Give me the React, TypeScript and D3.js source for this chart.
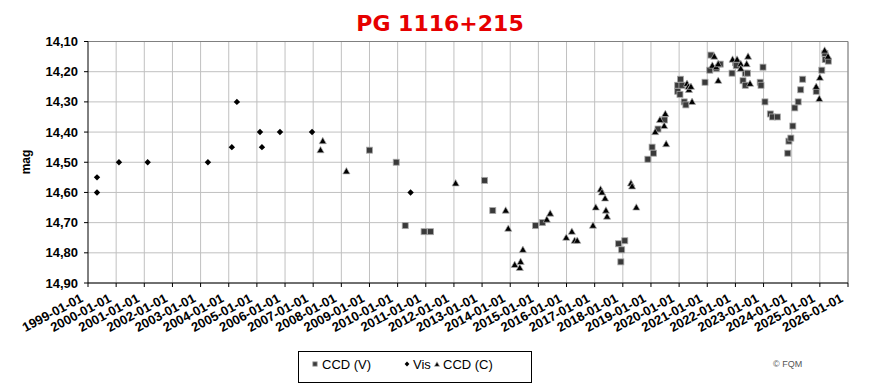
import * as d3 from "d3";

// decimal year, magnitude
const ccdV: [number, number][] = [
  [2009.0, 14.46], [2009.95, 14.5], [2010.27, 14.71], [2010.94, 14.73], [2011.17, 14.73],
  [2013.09, 14.56], [2013.38, 14.66], [2014.9, 14.71], [2015.14, 14.7],
  [2017.85, 14.77], [2017.93, 14.83], [2017.96, 14.79], [2018.07, 14.76],
  [2018.89, 14.49], [2019.04, 14.45], [2019.09, 14.47], [2019.25, 14.39], [2019.48, 14.36],
  [2019.95, 14.245], [2019.95, 14.265], [2020.03, 14.275], [2020.05, 14.225], [2020.1, 14.245],
  [2020.18, 14.3], [2020.24, 14.31], [2020.92, 14.235], [2021.09, 14.195], [2021.13, 14.145],
  [2021.32, 14.19], [2021.46, 14.175], [2021.88, 14.205], [2022.0, 14.17], [2022.03, 14.18],
  [2022.27, 14.23], [2022.35, 14.205], [2022.35, 14.245], [2022.43, 14.205],
  [2022.88, 14.235], [2022.91, 14.245], [2022.98, 14.185], [2023.05, 14.3],
  [2023.24, 14.34], [2023.32, 14.35], [2023.49, 14.35],
  [2023.86, 14.47], [2023.9, 14.43], [2023.97, 14.42], [2024.04, 14.38], [2024.11, 14.32],
  [2024.23, 14.3], [2024.32, 14.26], [2024.39, 14.225], [2024.87, 14.265],
  [2025.07, 14.195], [2025.18, 14.14], [2025.19, 14.16], [2025.3, 14.165],
];

const vis: [number, number][] = [
  [1999.32, 14.55], [1999.32, 14.6], [2000.1, 14.5], [2001.12, 14.5], [2003.26, 14.5],
  [2004.11, 14.45], [2004.29, 14.3], [2005.11, 14.4], [2005.18, 14.45], [2005.82, 14.4],
  [2006.96, 14.4], [2010.46, 14.6],
];

const ccdC: [number, number][] = [
  [2007.26, 14.46], [2007.34, 14.43], [2008.18, 14.53], [2012.06, 14.57],
  [2013.84, 14.66], [2013.93, 14.72], [2014.16, 14.84], [2014.34, 14.85], [2014.37, 14.83],
  [2014.45, 14.79], [2015.3, 14.69], [2015.42, 14.67], [2015.99, 14.75], [2016.19, 14.73],
  [2016.29, 14.76], [2016.38, 14.76], [2016.94, 14.71], [2017.04, 14.65], [2017.21, 14.59],
  [2017.26, 14.6], [2017.37, 14.62], [2017.4, 14.66], [2017.44, 14.68],
  [2018.29, 14.57], [2018.33, 14.58], [2018.48, 14.65],
  [2019.15, 14.4], [2019.32, 14.36], [2019.47, 14.38], [2019.51, 14.34], [2019.54, 14.44],
  [2020.28, 14.24], [2020.33, 14.25], [2020.35, 14.26], [2020.42, 14.25], [2020.46, 14.3],
  [2021.18, 14.18], [2021.25, 14.15], [2021.32, 14.185], [2021.39, 14.175], [2021.39, 14.23],
  [2021.9, 14.16], [2022.06, 14.16], [2022.19, 14.175], [2022.19, 14.19], [2022.4, 14.175],
  [2022.45, 14.15], [2022.52, 14.24],
  [2024.87, 14.25], [2024.98, 14.29], [2025.0, 14.22], [2025.17, 14.13], [2025.29, 14.15],
];

const years = d3.range(1999, 2027);
const magTicks = [14.1, 14.2, 14.3, 14.4, 14.5, 14.6, 14.7, 14.8, 14.9];
const legendItems = ["CCD (V)", "Vis", "CCD (C)"];

const W = 874;
const H = 388;
const left = 88;
const right = 848;
const top = 41.5;
const bottom = 283;

const font = "'Liberation Sans', Arial, sans-serif";

const Square = ({ x, y, s = 3 }: { x: number; y: number; s?: number }) => (
  <rect x={x - s} y={y - s} width={2 * s} height={2 * s} fill="#3a3a3a" stroke="#a8a8a8" strokeWidth={0.8} />
);
const Diamond = ({ x, y, s = 3.2 }: { x: number; y: number; s?: number }) => (
  <path d={`M${x},${y - s}L${x + s},${y}L${x},${y + s}L${x - s},${y}Z`} fill="#000" />
);
const Triangle = ({ x, y, s = 3.6 }: { x: number; y: number; s?: number }) => (
  <path d={`M${x},${y - s * 1.05}L${x + s},${y + s * 0.72}L${x - s},${y + s * 0.72}Z`} fill="#000" stroke="#b0b0b0" strokeWidth={0.7} />
);

export default function App() {
  const x = d3.scaleLinear().domain([1999, 2026]).range([left, right]);
  const y = d3.scaleLinear().domain([14.1, 14.9]).range([top, bottom]);
  const fmt = (v: number) => v.toFixed(2).replace(".", ",");

  return (
    <svg width={W} height={H} style={{ position: "absolute", left: 0, top: 0, background: "#fff" }}>
      <rect width={W} height={H} fill="#fff" />
      <text x={440} y={30.5} textAnchor="middle" fill="#e60000" fontFamily="'DejaVu Sans', Verdana, sans-serif" fontWeight="bold" fontSize={22}>
        PG 1116+215
      </text>

      {/* grid */}
      {years.slice(1).map((yr) => (
        <line key={"gx" + yr} x1={x(yr)} x2={x(yr)} y1={top} y2={bottom} stroke="#c0c0c0" />
      ))}
      {magTicks.map((m) => (
        <line key={"gy" + m} x1={left} x2={right} y1={y(m)} y2={y(m)} stroke="#c0c0c0" />
      ))}
      <line x1={left} x2={right} y1={top} y2={top} stroke="#808080" />
      <line x1={right} x2={right} y1={top} y2={bottom} stroke="#808080" />

      {/* axes */}
      <line x1={left} x2={left} y1={top} y2={bottom} stroke="#000" />
      <line x1={left} x2={right} y1={bottom} y2={bottom} stroke="#000" />
      {magTicks.map((m) => (
        <g key={"ty" + m}>
          <line x1={left - 4} x2={left} y1={y(m)} y2={y(m)} stroke="#000" />
          <text x={78} y={y(m) + 4.5} textAnchor="end" fontFamily={font} fontWeight="bold" fontSize={13} fill="#000">
            {fmt(m)}
          </text>
        </g>
      ))}
      {years.map((yr) => (
        <g key={"tx" + yr}>
          <line x1={x(yr)} x2={x(yr)} y1={bottom} y2={bottom + 4} stroke="#000" />
          <text
            transform={`translate(${x(yr) - 4},${bottom + 18}) rotate(-28)`}
            textAnchor="end"
            fontFamily={font}
            fontWeight="bold"
            fontSize={13}
            fill="#000"
          >
            {`${yr}-01-01`}
          </text>
        </g>
      ))}
      <text transform={`translate(30,162) rotate(-90)`} textAnchor="middle" fontFamily={font} fontWeight="bold" fontSize={12}>
        mag
      </text>

      {/* data */}
      {ccdV.map(([t, m], i) => (
        <Square key={"v" + i} x={x(t)} y={y(m)} />
      ))}
      {vis.map(([t, m], i) => (
        <Diamond key={"d" + i} x={x(t)} y={y(m)} />
      ))}
      {ccdC.map(([t, m], i) => (
        <Triangle key={"c" + i} x={x(t)} y={y(m)} />
      ))}

      {/* legend */}
      <rect x={298.5} y={351.5} width={233} height={31} fill="#fff" stroke="#000" />
      <Square x={315} y={364} s={2.2} />
      <text x={322} y={369} fontFamily={font} fontSize={13}>{legendItems[0]}</text>
      <Diamond x={407} y={364} s={2.4} />
      <text x={413} y={369} fontFamily={font} fontSize={13}>{legendItems[1]}</text>
      <Triangle x={437} y={364.5} s={2.6} />
      <text x={443} y={369} fontFamily={font} fontSize={13}>{legendItems[2]}</text>

      <text x={773} y={367} fontFamily={font} fontSize={9} fill="#555">© FQM</text>
    </svg>
  );
}
